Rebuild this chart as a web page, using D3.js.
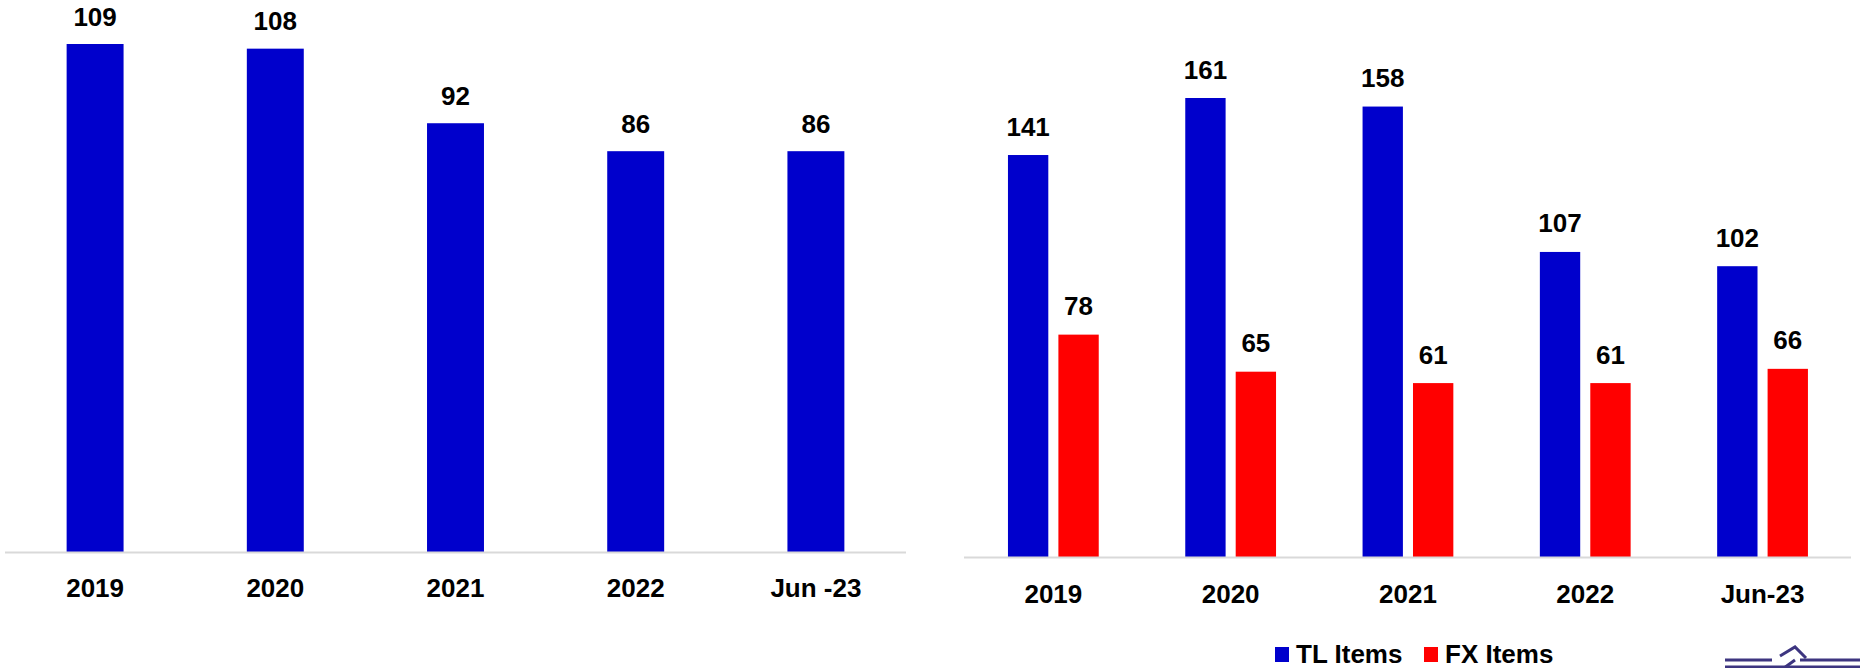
<!DOCTYPE html>
<html>
<head>
<meta charset="utf-8">
<script src="https://cdn.jsdelivr.net/npm/d3@7"></script>
<style>
  html, body { margin: 0; padding: 0; background: #fff; }
  svg { display: block; font-family: "Liberation Sans", Arial, sans-serif; }
</style>
</head>
<body>
<svg id="chart" width="1860" height="668"></svg>
<script>
// ---- Data ----
const leftCategories = ["2019", "2020", "2021", "2022", "Jun -23"];
const leftValues = [109, 108, 92, 86, 86];

const rightCategories = ["2019", "2020", "2021", "2022", "Jun-23"];
const seriesNames = ["TL Items", "FX Items"];
const tlValues = [141, 161, 158, 107, 102];
const fxValues = [78, 65, 61, 61, 66];

const colors = { "TL Items": "#0000CC", "FX Items": "#FF0000" };

const svg = d3.select("#chart");
const FONT = 26;

// ---- Left chart ----
const xL = d3.scaleBand().domain(leftCategories).range([5, 906])
  .paddingInner(0.684).paddingOuter(0.342);
const yL = d3.scaleLinear().domain([0, 109]).range([552, 44]);

const gL = svg.append("g");
gL.selectAll("rect.bar").data(leftCategories.map((c, i) => ({ c, v: leftValues[i] })))
  .join("rect")
  .attr("class", "bar")
  .attr("x", d => xL(d.c))
  .attr("width", xL.bandwidth())
  .attr("y", d => yL(d.v))
  .attr("height", d => yL(0) - yL(d.v))
  .attr("fill", "#0000CC");

gL.append("line")
  .attr("x1", 5).attr("x2", 906)
  .attr("y1", yL(0) + 0.5).attr("y2", yL(0) + 0.5)
  .attr("stroke", "#d9d9d9").attr("stroke-width", 2);

gL.selectAll("text.val").data(leftCategories.map((c, i) => ({ c, v: leftValues[i] })))
  .join("text")
  .attr("class", "val")
  .attr("x", d => xL(d.c) + xL.bandwidth() / 2)
  .attr("y", d => yL(d.v) - 18.5)
  .attr("text-anchor", "middle")
  .attr("font-size", FONT).attr("font-weight", "bold").attr("fill", "#000")
  .text(d => d.v);

const axL = d3.axisBottom(xL).tickSize(0).tickPadding(0);
const axLG = gL.append("g").attr("transform", `translate(0,597)`).call(axL);
axLG.select(".domain").remove();
axLG.selectAll("text")
  .attr("dy", 0).attr("y", 0)
  .attr("font-size", FONT).attr("font-weight", "bold").attr("fill", "#000")
  .attr("font-family", "Liberation Sans, Arial, sans-serif");

// ---- Right chart ----
const xR = d3.scaleBand().domain(rightCategories).range([964.7, 1851.2])
  .paddingInner(0.488).paddingOuter(0.244);
const xSub = d3.scaleBand().domain(seriesNames).range([0, xR.bandwidth()]).paddingInner(0.2);
const yR = d3.scaleLinear().domain([0, 161]).range([557, 98]);

const rows = rightCategories.map((c, i) => ({
  c,
  vals: [{ s: "TL Items", v: tlValues[i] }, { s: "FX Items", v: fxValues[i] }]
}));

const gR = svg.append("g");
const groups = gR.selectAll("g.grp").data(rows).join("g")
  .attr("class", "grp")
  .attr("transform", d => `translate(${xR(d.c)},0)`);

groups.selectAll("rect").data(d => d.vals).join("rect")
  .attr("x", d => xSub(d.s))
  .attr("width", xSub.bandwidth())
  .attr("y", d => yR(d.v))
  .attr("height", d => yR(0) - yR(d.v))
  .attr("fill", d => colors[d.s]);

groups.selectAll("text").data(d => d.vals).join("text")
  .attr("x", d => xSub(d.s) + xSub.bandwidth() / 2)
  .attr("y", d => yR(d.v) - 19.5)
  .attr("text-anchor", "middle")
  .attr("font-size", FONT).attr("font-weight", "bold").attr("fill", "#000")
  .text(d => d.v);

gR.append("line")
  .attr("x1", 964).attr("x2", 1851)
  .attr("y1", yR(0) + 0.5).attr("y2", yR(0) + 0.5)
  .attr("stroke", "#d9d9d9").attr("stroke-width", 2);

const axR = d3.axisBottom(xR).tickSize(0).tickPadding(0);
const axRG = gR.append("g").attr("transform", `translate(0,603)`).call(axR);
axRG.select(".domain").remove();
axRG.selectAll("text")
  .attr("dy", 0).attr("y", 0)
  .attr("font-size", FONT).attr("font-weight", "bold").attr("fill", "#000")
  .attr("font-family", "Liberation Sans, Arial, sans-serif");

// ---- Legend ----
const legendItems = [
  { s: "TL Items", x: 1275 },
  { s: "FX Items", x: 1424 }
];
const lg = svg.append("g");
legendItems.forEach(it => {
  lg.append("rect").attr("x", it.x).attr("y", 647).attr("width", 14).attr("height", 15)
    .attr("fill", colors[it.s]);
  lg.append("text").attr("x", it.x + 21).attr("y", 663)
    .attr("font-size", FONT).attr("font-weight", "bold").attr("fill", "#000")
    .text(it.s);
});

// ---- Logo fragment (bottom right) ----
const logo = svg.append("g").attr("fill", "none").attr("stroke", "#3d3580").attr("stroke-width", 3);
logo.append("line").attr("x1", 1725).attr("x2", 1772).attr("y1", 660).attr("y2", 660);
logo.append("line").attr("x1", 1725).attr("x2", 1860).attr("y1", 667).attr("y2", 667);
logo.append("line").attr("x1", 1800).attr("x2", 1860).attr("y1", 660).attr("y2", 660);
logo.append("path").attr("d", "M1780,656 L1795,647 L1806,658 M1784,668 L1795,660");
</script>
</body>
</html>
